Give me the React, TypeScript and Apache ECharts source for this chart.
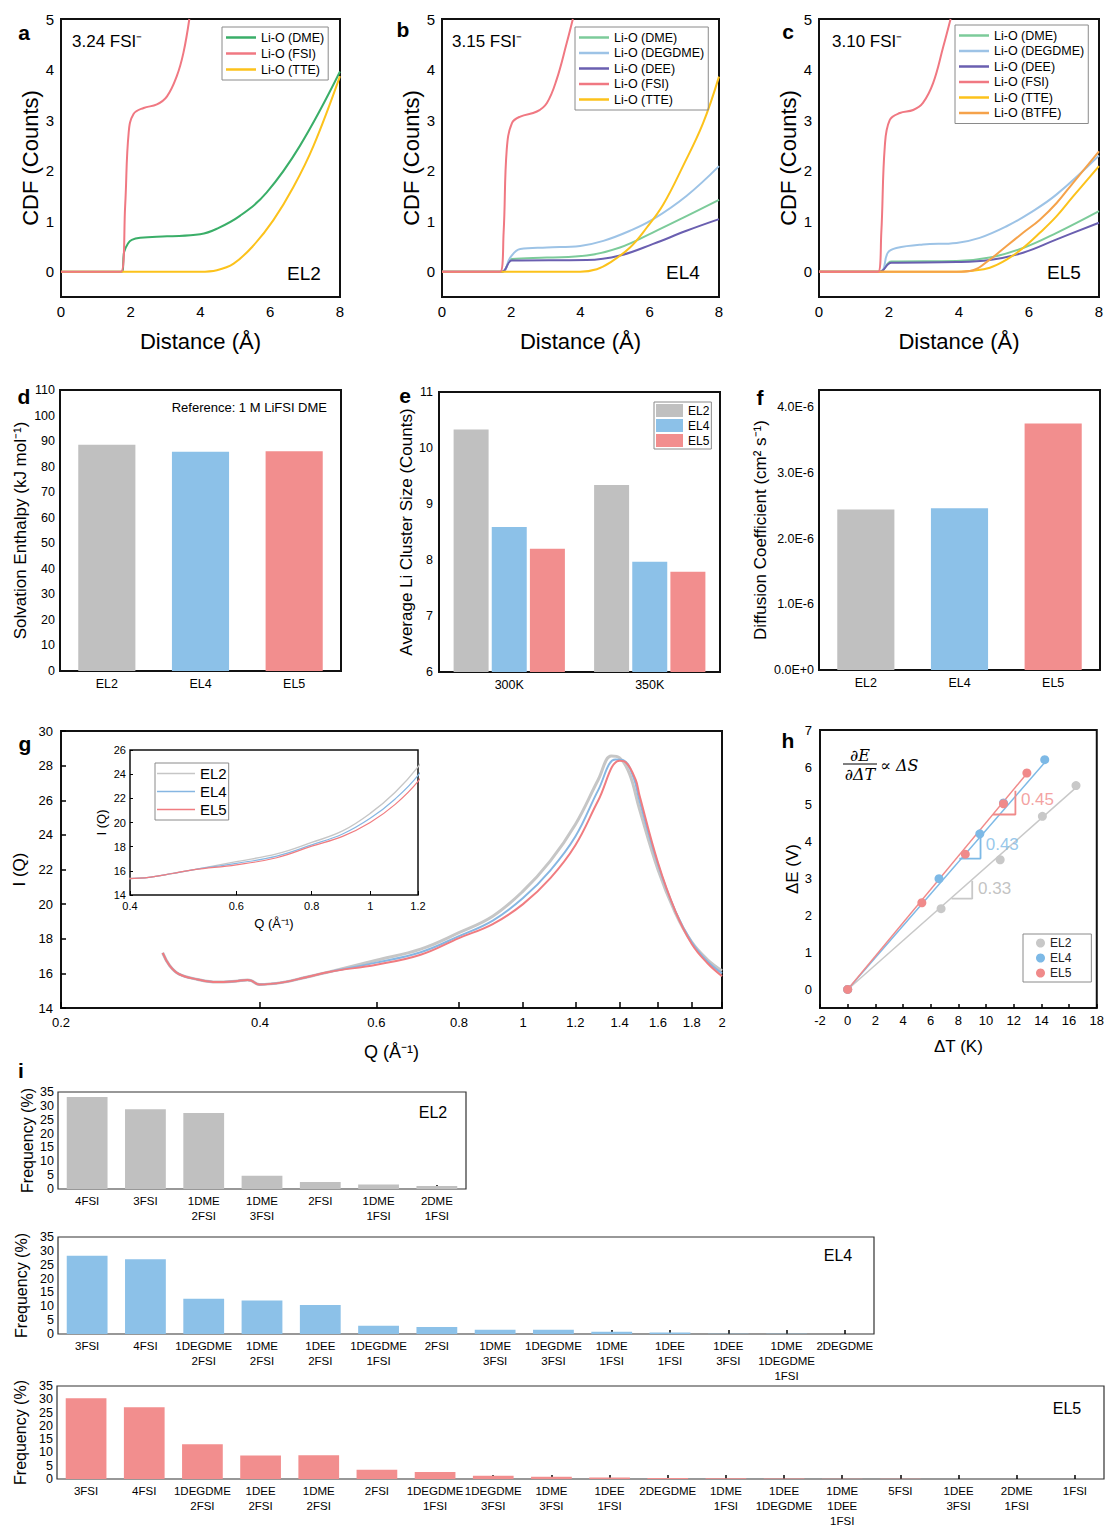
import React, { useEffect, useRef } from "react";
import * as echarts from "echarts";

const FONT = "'Liberation Sans', Arial, sans-serif";

// ---------- a : EL2 CDF ----------
const aDME = [[0, 0], [1.74, 0], [1.81, 0.39], [1.92, 0.56], [2.03, 0.63], [2.27, 0.67], [3.04, 0.7], [3.99, 0.74], [4.47, 0.85], [5.14, 1.11], [5.9, 1.57], [6.85, 2.49], [8, 3.96]];
const aFSI = [[0, 0], [1.72, 0], [1.84, 1.31], [1.94, 2.75], [2.08, 3.12], [2.37, 3.24], [2.75, 3.31], [3.04, 3.47], [3.32, 3.87], [3.51, 4.33], [3.68, 5.0]];
const aTTE = [[0, 0], [3.99, 0], [4.47, 0.03], [4.95, 0.16], [5.52, 0.52], [6.09, 1.02], [6.66, 1.67], [7.24, 2.49], [8, 3.87]];
// ---------- b : EL4 CDF ----------
const bFSI = [[0, 0], [1.68, 0], [1.78, 0.78], [1.87, 2.42], [2.02, 2.94], [2.26, 3.07], [2.74, 3.17], [3.03, 3.34], [3.31, 3.8], [3.6, 4.52], [3.78, 5.0]];
const bDEGDME = [[0, 0], [1.73, 0], [1.97, 0.28], [2.26, 0.45], [3.03, 0.48], [3.99, 0.51], [4.66, 0.61], [5.43, 0.81], [6.1, 1.04], [7.06, 1.5], [8, 2.09]];
const bDME = [[0, 0], [1.73, 0], [2.02, 0.25], [3.03, 0.28], [4.18, 0.32], [5.14, 0.48], [6.1, 0.78], [7.06, 1.1], [8, 1.42]];
const bDEE = [[0, 0], [1.73, 0], [2.02, 0.22], [4.18, 0.23], [5.14, 0.32], [6.1, 0.55], [7.06, 0.81], [8, 1.04]];
const bTTE = [[0, 0], [3.99, 0], [4.47, 0.05], [4.85, 0.18], [5.43, 0.48], [5.91, 0.87], [6.39, 1.33], [6.96, 2.09], [7.54, 2.94], [8, 3.86]];
// ---------- c : EL5 CDF ----------
const cFSI = [[0, 0], [1.69, 0], [1.78, 0.77], [1.88, 2.48], [2.02, 3.0], [2.31, 3.14], [2.69, 3.2], [2.97, 3.34], [3.26, 3.73], [3.55, 4.45], [3.76, 5.0]];
const cDEGDME = [[0, 0], [1.73, 0], [1.97, 0.38], [2.21, 0.47], [2.97, 0.54], [3.93, 0.57], [4.59, 0.67], [5.36, 0.9], [6.02, 1.16], [6.79, 1.53], [8, 2.3]];
const cDME = [[0, 0], [1.73, 0], [2.07, 0.2], [3.93, 0.21], [4.88, 0.28], [5.83, 0.47], [6.79, 0.77], [8, 1.2]];
const cDEE = [[0, 0], [1.73, 0], [2.07, 0.18], [3.93, 0.19], [4.88, 0.23], [5.83, 0.375], [6.79, 0.64], [8, 0.97]];
const cTTE = [[0, 0], [3.93, 0], [4.4, 0.02], [4.88, 0.08], [5.36, 0.24], [5.83, 0.47], [6.31, 0.77], [6.79, 1.1], [7.26, 1.49], [8, 2.09]];
const cBTFE = [[0, 0], [3.93, 0], [4.4, 0.03], [4.88, 0.24], [5.36, 0.51], [5.83, 0.77], [6.31, 1.03], [6.79, 1.36], [7.26, 1.76], [8, 2.38]];
const cdfTicks = [0, 1, 2, 3, 4, 5];

// ---------- d ----------
const elCats = ["EL2", "EL4", "EL5"];
const enthalpy = [88.6, 85.8, 86.0];
// ---------- e ----------
const tempCats = ["300K", "350K"];
const clusterEL2 = [10.33, 9.34];
const clusterEL4 = [8.59, 7.97];
const clusterEL5 = [8.2, 7.79];
// ---------- f ----------
const diffusion = [2.44e-6, 2.46e-6, 3.75e-6];
const diffTicks = [0, 1e-6, 2e-6, 3e-6, 4e-6];
// ---------- g ----------
const gLow = [[0.285, 17.18], [0.292, 16.45], [0.302, 15.95], [0.322, 15.65], [0.344, 15.5], [0.367, 15.55], [0.383, 15.62], [0.388, 15.58], [0.399, 15.36], [0.433, 15.48], [0.47, 15.78], [0.511, 16.1]];
const gEL2 = [...gLow, [0.6, 16.76], [0.7, 17.4], [0.8, 18.35], [0.9, 19.3], [1.0, 20.75], [1.1, 22.5], [1.2, 24.6], [1.3, 27.2], [1.36, 28.55], [1.4, 28.45], [1.45, 27.5], [1.5, 25.5], [1.6, 22.0], [1.7, 19.5], [1.8, 17.8], [1.9, 16.8], [2.0, 16.15]];
const gEL4 = [...gLow, [0.6, 16.62], [0.7, 17.22], [0.8, 18.15], [0.9, 19.05], [1.0, 20.35], [1.1, 21.95], [1.2, 23.9], [1.3, 26.6], [1.38, 28.35], [1.42, 28.3], [1.47, 27.3], [1.5, 26.0], [1.6, 22.3], [1.7, 19.6], [1.8, 17.8], [1.9, 16.7], [2.0, 16.0]];
const gEL5 = [...gLow, [0.6, 16.5], [0.7, 17.08], [0.8, 18.04], [0.9, 18.85], [1.0, 20.0], [1.1, 21.5], [1.2, 23.4], [1.3, 26.0], [1.4, 28.28], [1.43, 28.2], [1.48, 27.2], [1.5, 26.3], [1.6, 22.4], [1.7, 19.6], [1.8, 17.7], [1.9, 16.6], [2.0, 15.84]];
const gTicksQ = [0.2, 0.4, 0.6, 0.8, 1, 1.2, 1.4, 1.6, 1.8, 2];
const gInsetTicksQ = [0.4, 0.6, 0.8, 1, 1.2];
// ---------- h ----------
const hEL2 = [[0, 0], [6.75, 2.18], [11.02, 3.5], [14.07, 4.67], [16.5, 5.5]];
const hEL4 = [[0, 0], [6.6, 2.99], [9.55, 4.2], [11.26, 5.03], [14.24, 6.2]];
const hEL5 = [[0, 0], [5.36, 2.34], [8.5, 3.65], [11.26, 5.01], [12.95, 5.84]];
const hSlopes = [0.33, 0.43, 0.45];
const hFitEnd = [16.5, 14.3, 12.95];
const hTriEL2 = [[7.5, 2.45], [9.0, 2.45], [9.0, 2.93]];
const hTriEL4 = [[8.07, 3.53], [9.6, 3.53], [9.6, 4.14]];
const hTriEL5 = [[10.5, 4.72], [12.12, 4.72], [12.12, 5.36]];
const hSlopeLabelPos = [[9.43, 2.72], [9.98, 3.91], [12.52, 5.12]];
const hYTicks = [0, 1, 2, 3, 4, 5, 6, 7];
// ---------- i ----------
const iFreqTicks = [0, 5, 10, 15, 20, 25, 30, 35];
const iCatsEL2 = ["4FSI", "3FSI", "1DME\n2FSI", "1DME\n3FSI", "2FSI", "1DME\n1FSI", "2DME\n1FSI"];
const iValsEL2 = [33.2, 28.8, 27.4, 4.8, 2.5, 1.6, 1.1];
const iCatsEL4 = ["3FSI", "4FSI", "1DEGDME\n2FSI", "1DME\n2FSI", "1DEE\n2FSI", "1DEGDME\n1FSI", "2FSI", "1DME\n3FSI", "1DEGDME\n3FSI", "1DME\n1FSI", "1DEE\n1FSI", "1DEE\n3FSI", "1DME\n1DEGDME\n1FSI", "2DEGDME"];
const iValsEL4 = [28.2, 27.0, 12.7, 12.1, 10.5, 3.0, 2.5, 1.55, 1.5, 0.8, 0.5, 0.1, 0.05, 0.02];
const iCatsEL5 = ["3FSI", "4FSI", "1DEGDME\n2FSI", "1DEE\n2FSI", "1DME\n2FSI", "2FSI", "1DEGDME\n1FSI", "1DEGDME\n3FSI", "1DME\n3FSI", "1DEE\n1FSI", "2DEGDME", "1DME\n1FSI", "1DEE\n1DEGDME", "1DME\n1DEE\n1FSI", "5FSI", "1DEE\n3FSI", "2DME\n1FSI", "1FSI"];
const iValsEL5 = [30.4, 27.0, 13.1, 8.8, 8.9, 3.5, 2.65, 1.2, 0.85, 0.6, 0.4, 0.3, 0.15, 0.1, 0.05, 0.04, 0.03, 0.02];

// ---------- colours ----------
const GRAY = "#c0c0c0";
const BLUE = "#8cc1e8";
const RED = "#f28e8e";
const elColors = [GRAY, BLUE, RED];
const C = {
  dmeA: "#3aae68",
  dme: "#7ccb9a",
  degdme: "#9dc3e6",
  dee: "#6a5fb0",
  fsi: "#f07882",
  tte: "#fcc21b",
  btfe: "#f5a24a",
};

const lg = Math.log10;
const tf = (arr: number[][]) => arr.map(([q, v]) => [lg(q), v]);
const fmtQ = (v: number) => String(Math.round(Math.pow(10, v) * 10) / 10);
const txt = (size: number, extra: any = {}) => ({ fontSize: size, color: "#000", fontFamily: FONT, ...extra });
const split = (n: string) => n.split("#")[1];

function buildOption() {
  const grids = [
    { left: 61, top: 19, width: 279, height: 278 },
    { left: 442, top: 19, width: 277, height: 278 },
    { left: 819, top: 19, width: 280, height: 278 },
    { left: 60, top: 390, width: 281, height: 281 },
    { left: 439, top: 392, width: 281, height: 280 },
    { left: 819, top: 390, width: 281, height: 280 },
    { left: 61, top: 731, width: 661, height: 277 },
    { left: 130, top: 750, width: 288, height: 145 },
    { left: 820, top: 730, width: 279, height: 278 },
    { left: 58, top: 1092, width: 408, height: 97 },
    { left: 58, top: 1237, width: 816, height: 97 },
    { left: 57, top: 1386, width: 1047, height: 97 },
  ].map((g, i) => ({
    ...g,
    show: true,
    borderColor: i >= 9 ? "#333" : "#111",
    borderWidth: i >= 9 ? 1.2 : i === 7 ? 1.5 : 2,
    backgroundColor: "transparent",
    containLabel: false,
  }));

  const noLine = { show: false, onZero: false };
  const noSplit = { show: false };
  const catTick = { show: true, inside: true, alignWithLabel: true, length: 4, lineStyle: { color: "#000", width: 1.5 } };

  const cdfX = (gi: number) => ({
    gridIndex: gi, type: "value", min: 0, max: 8, interval: 2,
    axisLine: noLine, axisTick: { show: false }, splitLine: noSplit,
    axisLabel: txt(15, { margin: 7 }),
    name: "Distance (Å)", nameLocation: "middle", nameGap: 33, nameTextStyle: txt(22),
  });
  const cdfY = (gi: number) => ({
    gridIndex: gi, type: "value", min: -0.5, max: 5,
    axisLine: noLine, axisTick: { show: false }, splitLine: noSplit,
    axisLabel: txt(15, { margin: 7, customValues: cdfTicks }),
    name: "CDF (Counts)", nameLocation: "middle", nameGap: 20, nameTextStyle: txt(22),
  });

  const iX = (gi: number, data: string[]) => ({
    gridIndex: gi, type: "category", data, axisLine: noLine, axisTick: catTick,
    axisLabel: txt(11.5, { margin: 4, interval: 0, lineHeight: 15 }),
  });

  const xAxis: any[] = [
    cdfX(0), cdfX(1), cdfX(2),
    { gridIndex: 3, type: "category", data: elCats, axisLine: noLine, axisTick: catTick, axisLabel: txt(12.5, { margin: 6 }) },
    { gridIndex: 4, type: "category", data: tempCats, axisLine: noLine, axisTick: catTick, axisLabel: txt(12.5, { margin: 6 }) },
    { gridIndex: 5, type: "category", data: elCats, axisLine: noLine, axisTick: catTick, axisLabel: txt(12.5, { margin: 6 }) },
    {
      gridIndex: 6, type: "value", min: lg(0.2), max: lg(2), axisLine: noLine, splitLine: noSplit,
      axisTick: { show: true, inside: true, length: 6, customValues: gTicksQ.map(lg), lineStyle: { color: "#000", width: 1.5 } },
      axisLabel: txt(13, { margin: 8, customValues: gTicksQ.map(lg), formatter: fmtQ }),
      name: "Q (Å⁻¹)", nameLocation: "middle", nameGap: 35, nameTextStyle: txt(18),
    },
    {
      gridIndex: 7, type: "value", min: lg(0.4), max: lg(1.2), axisLine: noLine, splitLine: noSplit,
      axisTick: { show: true, inside: true, length: 4, customValues: gInsetTicksQ.map(lg), lineStyle: { color: "#000" } },
      axisLabel: txt(11, { margin: 5, customValues: gInsetTicksQ.map(lg), formatter: fmtQ }),
      name: "Q (Å⁻¹)", nameLocation: "middle", nameGap: 22, nameTextStyle: txt(13),
    },
    {
      gridIndex: 8, type: "value", min: -2, max: 18, interval: 2, axisLine: noLine, splitLine: noSplit,
      axisTick: { show: true, inside: true, length: 4, lineStyle: { color: "#000", width: 1.5 } },
      axisLabel: txt(13, { margin: 6 }),
      name: "ΔT (K)", nameLocation: "middle", nameGap: 30, nameTextStyle: txt(17),
    },
    iX(9, iCatsEL2), iX(10, iCatsEL4), iX(11, iCatsEL5),
  ];

  const iY = (gi: number) => ({
    gridIndex: gi, type: "value", min: 0, max: 35, axisLine: noLine, splitLine: noSplit,
    axisTick: { show: false },
    axisLabel: txt(12.5, { margin: 4, customValues: iFreqTicks, hideOverlap: false }),
    name: "Frequency (%)", nameLocation: "middle", nameGap: 23, nameTextStyle: txt(16),
  });

  const yAxis: any[] = [
    cdfY(0), cdfY(1), cdfY(2),
    {
      gridIndex: 3, type: "value", min: 0, max: 110, interval: 10, axisLine: noLine, splitLine: noSplit,
      axisTick: { show: false }, axisLabel: txt(12.5, { margin: 5 }),
      name: "Solvation Enthalpy (kJ mol⁻¹)", nameLocation: "middle", nameGap: 31, nameTextStyle: txt(17),
    },
    {
      gridIndex: 4, type: "value", min: 6, max: 11, interval: 1, axisLine: noLine, splitLine: noSplit,
      axisTick: { show: false }, axisLabel: txt(12.5, { margin: 6 }),
      name: "Average Li Cluster Size (Counts)", nameLocation: "middle", nameGap: 23, nameTextStyle: txt(17),
    },
    {
      gridIndex: 5, type: "value", min: 0, max: 4.26e-6, axisLine: noLine, splitLine: noSplit,
      axisTick: { show: false },
      axisLabel: txt(12.5, { margin: 5, customValues: diffTicks, formatter: (v: number) => (v === 0 ? "0.0E+0" : (v * 1e6).toFixed(1) + "E-6") }),
      name: "Diffusion Coefficient (cm² s⁻¹)", nameLocation: "middle", nameGap: 50, nameTextStyle: txt(17),
    },
    {
      gridIndex: 6, type: "value", min: 14, max: 30, interval: 2, axisLine: noLine, splitLine: noSplit,
      axisTick: { show: true, inside: true, length: 5, lineStyle: { color: "#000", width: 1.5 } },
      axisLabel: txt(13, { margin: 8 }),
      name: "I (Q)", nameLocation: "middle", nameGap: 32, nameTextStyle: txt(17),
    },
    {
      gridIndex: 7, type: "value", min: 14, max: 26, interval: 2, axisLine: noLine, splitLine: noSplit,
      axisTick: { show: true, inside: true, length: 3, lineStyle: { color: "#000" } },
      axisLabel: txt(11, { margin: 4 }),
      name: "I (Q)", nameLocation: "middle", nameGap: 22, nameTextStyle: txt(13),
    },
    {
      gridIndex: 8, type: "value", min: -0.5, max: 7, axisLine: noLine, splitLine: noSplit,
      axisTick: { show: false },
      axisLabel: txt(13, { margin: 8, customValues: hYTicks }),
      name: "ΔE (V)", nameLocation: "middle", nameGap: 17, nameTextStyle: txt(17),
    },
    iY(9), iY(10), iY(11),
  ];

  const ln = (name: string, gi: number, data: any[], color: string, width = 2) => ({
    type: "line", name, xAxisIndex: gi, yAxisIndex: gi, data, smooth: 0.4,
    symbol: "none", showSymbol: false, lineStyle: { color, width }, itemStyle: { color }, z: 3, clip: true,
  });

  const series: any[] = [
    ln("a#Li-O (DME)", 0, aDME, C.dmeA),
    ln("a#Li-O (TTE)", 0, aTTE, C.tte),
    ln("a#Li-O (FSI)", 0, aFSI, C.fsi),

    ln("b#Li-O (DME)", 1, bDME, C.dme),
    ln("b#Li-O (DEGDME)", 1, bDEGDME, C.degdme),
    ln("b#Li-O (DEE)", 1, bDEE, C.dee),
    ln("b#Li-O (TTE)", 1, bTTE, C.tte),
    ln("b#Li-O (FSI)", 1, bFSI, C.fsi),

    ln("c#Li-O (DME)", 2, cDME, C.dme),
    ln("c#Li-O (DEGDME)", 2, cDEGDME, C.degdme),
    ln("c#Li-O (DEE)", 2, cDEE, C.dee),
    ln("c#Li-O (TTE)", 2, cTTE, C.tte),
    ln("c#Li-O (BTFE)", 2, cBTFE, C.btfe),
    ln("c#Li-O (FSI)", 2, cFSI, C.fsi),

    {
      type: "bar", name: "d", xAxisIndex: 3, yAxisIndex: 3, barWidth: "61%",
      data: enthalpy.map((v, i) => ({ value: v, itemStyle: { color: elColors[i] } })),
    },
    { type: "bar", name: "e#EL2", xAxisIndex: 4, yAxisIndex: 4, barWidth: 35, barGap: "9%", data: clusterEL2, itemStyle: { color: GRAY } },
    { type: "bar", name: "e#EL4", xAxisIndex: 4, yAxisIndex: 4, barWidth: 35, barGap: "9%", data: clusterEL4, itemStyle: { color: BLUE } },
    { type: "bar", name: "e#EL5", xAxisIndex: 4, yAxisIndex: 4, barWidth: 35, barGap: "9%", data: clusterEL5, itemStyle: { color: RED } },
    {
      type: "bar", name: "f", xAxisIndex: 5, yAxisIndex: 5, barWidth: "61%",
      data: diffusion.map((v, i) => ({ value: v, itemStyle: { color: elColors[i] } })),
    },

    ln("g#EL2", 6, tf(gEL2), "#c6c6c6", 3),
    ln("g#EL4", 6, tf(gEL4), "#86b6e2", 2),
    ln("g#EL5", 6, tf(gEL5), "#f07c80", 2),
    ln("gi#EL2", 7, tf(gEL2), "#c6c6c6", 1.4),
    ln("gi#EL4", 7, tf(gEL4), "#86b6e2", 1.2),
    ln("gi#EL5", 7, tf(gEL5), "#f07c80", 1.2),
  ];

  const hCols = ["#c8c8c8", "#7db9e6", "#f08a8a"];
  const hTris = [hTriEL2, hTriEL4, hTriEL5];
  const hPts = [hEL2, hEL4, hEL5];
  const hNames = ["EL2", "EL4", "EL5"];
  for (let i = 0; i < 3; i++) {
    series.push({
      type: "line", name: "hfit" + i, xAxisIndex: 8, yAxisIndex: 8, symbol: "none",
      data: [[0, 0], [hFitEnd[i], hSlopes[i] * hFitEnd[i]]], lineStyle: { color: hCols[i], width: 1.5 }, z: 2,
    });
    series.push({
      type: "line", name: "htri" + i, xAxisIndex: 8, yAxisIndex: 8, symbol: "none",
      data: hTris[i], lineStyle: { color: hCols[i], width: 1.8 }, z: 2,
    });
  }
  for (let i = 0; i < 3; i++) {
    series.push({
      type: "scatter", name: "h#" + hNames[i], xAxisIndex: 8, yAxisIndex: 8, symbolSize: 9,
      data: hPts[i], itemStyle: { color: hCols[i], opacity: 1 }, z: 4,
    });
  }
  for (let i = 0; i < 3; i++) {
    series.push({
      type: "scatter", name: "hlab" + i, xAxisIndex: 8, yAxisIndex: 8, symbolSize: 0.1,
      data: [hSlopeLabelPos[i]], itemStyle: { color: "transparent" }, z: 5,
      label: {
        show: true, position: [0, 0], align: "left", verticalAlign: "middle",
        formatter: hSlopes[i].toFixed(2), color: i === 0 ? "#b3b3b3" : hCols[i], fontSize: 17, fontFamily: FONT,
      },
    });
  }

  series.push(
    { type: "bar", name: "i1", xAxisIndex: 9, yAxisIndex: 9, barWidth: "70%", data: iValsEL2, itemStyle: { color: GRAY } },
    { type: "bar", name: "i2", xAxisIndex: 10, yAxisIndex: 10, barWidth: "70%", data: iValsEL4, itemStyle: { color: BLUE } },
    { type: "bar", name: "i3", xAxisIndex: 11, yAxisIndex: 11, barWidth: "70%", data: iValsEL5, itemStyle: { color: RED } }
  );

  const legBase = {
    orient: "vertical", selectedMode: false, borderColor: "#8a8a8a", borderWidth: 1,
    formatter: split, textStyle: txt(12.5),
  };
  const lineIcon = { icon: "rect", itemHeight: 2.5 };
  const legend: any[] = [
    { ...legBase, ...lineIcon, left: 222, top: 27, itemWidth: 30, itemGap: 3, padding: [4, 4, 4, 4], data: ["a#Li-O (DME)", "a#Li-O (FSI)", "a#Li-O (TTE)"] },
    { ...legBase, ...lineIcon, left: 575, top: 27, itemWidth: 30, itemGap: 2.5, padding: [4, 4, 4, 4], data: ["b#Li-O (DME)", "b#Li-O (DEGDME)", "b#Li-O (DEE)", "b#Li-O (FSI)", "b#Li-O (TTE)"] },
    { ...legBase, ...lineIcon, left: 955, top: 25, itemWidth: 30, itemGap: 2.5, padding: [4, 4, 4, 4], data: ["c#Li-O (DME)", "c#Li-O (DEGDME)", "c#Li-O (DEE)", "c#Li-O (FSI)", "c#Li-O (TTE)", "c#Li-O (BTFE)"] },
    { ...legBase, left: 654, top: 402, icon: "rect", itemWidth: 27, itemHeight: 13, itemGap: 2, padding: 2, textStyle: txt(12), data: ["e#EL2", "e#EL4", "e#EL5"] },
    { ...legBase, icon: "rect", itemHeight: 1.5, left: 155, top: 763, itemWidth: 38, itemGap: 3, padding: [3, 2, 3, 2], textStyle: txt(15), data: ["gi#EL2", "gi#EL4", "gi#EL5"] },
    { ...legBase, left: 1023, top: 934, icon: "circle", itemWidth: 9, itemHeight: 9, itemGap: 3, padding: [3, 20, 3, 13], textStyle: txt(12, { color: "#222" }), data: ["h#EL2", "h#EL4", "h#EL5"] },
  ];

  const T = (text: string, x: number, y: number, font: string, align = "left", fill = "#000") => ({
    type: "text", x, y, z: 100,
    style: { text, font, fill, align, verticalAlign: "middle", textAlign: align, textVerticalAlign: "middle" },
  });
  const bold = `bold 21px ${FONT}`;
  const serif = `italic 16px 'DejaVu Serif', serif`;
  const graphic: any[] = [
    T("a", 24, 32, bold, "center"),
    T("b", 403, 29, bold, "center"),
    T("c", 788, 31, bold, "center"),
    T("d", 24, 396, bold, "center"),
    T("e", 405, 395, bold, "center"),
    T("f", 760, 397, bold, "center"),
    T("g", 25, 743, bold, "center"),
    T("h", 788, 740, bold, "center"),
    T("i", 21, 1070, bold, "center"),
    T("3.24 FSI⁻", 72, 41, `17px ${FONT}`),
    T("3.15 FSI⁻", 452, 41, `17px ${FONT}`),
    T("3.10 FSI⁻", 832, 41, `17px ${FONT}`),
    T("EL2", 304, 273, `19px ${FONT}`, "center"),
    T("EL4", 683, 272, `19px ${FONT}`, "center"),
    T("EL5", 1064, 272, `19px ${FONT}`, "center"),
    T("Reference: 1 M LiFSI DME", 327, 407, `13px ${FONT}`, "right"),
    T("EL2", 433, 1112, `16px ${FONT}`, "center"),
    T("EL4", 838, 1255, `16px ${FONT}`, "center"),
    T("EL5", 1067, 1408, `16px ${FONT}`, "center"),
    T("∂E", 860, 755, serif, "center"),
    { type: "line", z: 100, shape: { x1: 843, y1: 764, x2: 877, y2: 764 }, style: { stroke: "#000", lineWidth: 1 } },
    T("∂ΔT", 860, 774, serif, "center"),
    T("∝ ΔS", 880, 765, serif),
  ];

  return { animation: false, backgroundColor: "#fff", grid: grids, xAxis, yAxis, series, legend, graphic };
}

export default function App() {
  const ref = useRef<HTMLDivElement>(null);
  useEffect(() => {
    if (!ref.current) return;
    const chart = echarts.init(ref.current, null, { renderer: "svg" });
    chart.setOption(buildOption() as any);
    return () => chart.dispose();
  }, []);
  return <div ref={ref} style={{ position: "absolute", left: 0, top: 0, width: 1107, height: 1528, background: "#fff" }} />;
}
